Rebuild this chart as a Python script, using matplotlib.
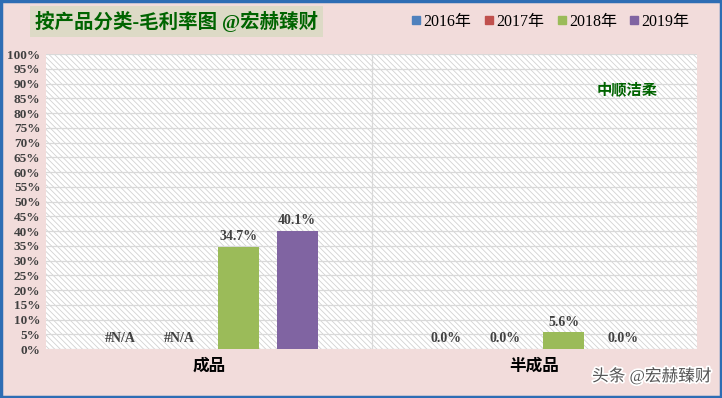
import matplotlib.pyplot as plt
import matplotlib.patches as mpatches
from matplotlib.lines import Line2D
import matplotlib.patheffects as pe
import numpy as np

plt.rcParams['font.family'] = ['Liberation Serif', 'Noto Sans CJK SC', 'DejaVu Sans']
plt.rcParams['hatch.linewidth'] = 0.6

categories = ['成品', '半成品']
years = ['2016年', '2017年', '2018年', '2019年']
# nan = #N/A
margins = {
    '2016年': [np.nan, 0.0],
    '2017年': [np.nan, 0.0],
    '2018年': [0.347, 0.056],
    '2019年': [0.401, 0.0],
}
colors = ['#4F81BD', '#C0504D', '#9BBB59', '#8064A2']

fig = plt.figure(figsize=(7.22, 3.98), dpi=100)
fig.patch.set_facecolor('#F2DCDB')
ax = fig.add_axes([0.0637, 0.1231, 0.9017, 0.7412])
ax.patch.set_facecolor('white')
# hatched plot area
ax.add_patch(mpatches.Rectangle((0, 0), 1, 1, transform=ax.transAxes, facecolor='white',
                                edgecolor='#d2d2d2', hatch='\\\\\\\\\\\\', lw=0, zorder=0))

slot = 0.181
width = 0.126
x = np.arange(len(categories))
for i, (yr, c) in enumerate(zip(years, colors)):
    vals = np.array(margins[yr], dtype=float)
    pos = x + (i - 1.5) * slot
    ax.bar(pos, np.nan_to_num(vals), width, color=c, zorder=3)
    for p, v in zip(pos, vals):
        lab = '#N/A' if np.isnan(v) else '%.1f%%' % (v * 100)
        h = 0 if np.isnan(v) else v
        ax.text(p, h + 0.012, lab, ha='center', va='bottom', fontsize=10,
                fontweight='bold', color='#404040', zorder=4)

ax.set_xlim(-0.5, 1.5)
ax.set_ylim(0, 1)
ax.set_yticks(np.arange(0, 1.001, 0.05))
ax.set_yticklabels(['%d%%' % round(t * 100) for t in np.arange(0, 1.001, 0.05)],
                   fontsize=9.5, fontweight='bold', color='#404040')
ax.yaxis.grid(True, color='#D9D9D9', lw=0.9, zorder=1)
ax.axvline(0.5, color='#D9D9D9', lw=0.9, zorder=1)
ax.tick_params(axis='y', length=0, pad=4)
ax.set_xticks(x)
ax.set_xticklabels(categories, fontsize=12, fontweight='bold')
ax.tick_params(axis='x', length=0, pad=7)
for s in ax.spines.values():
    s.set_visible(False)
ax.set_axisbelow(True)

ax.text(0.892, 0.88, '中顺洁柔', transform=ax.transAxes, ha='center', va='center',
        fontsize=11, fontweight='bold', color='#006400')

fig.text(0.048, 0.945, '按产品分类-毛利率图 @宏赫臻财', ha='left', va='center',
         fontsize=14, fontweight='bold', color='#006400',
         bbox=dict(boxstyle='square,pad=0.25', fc='#DDDAC6', ec='none'))

handles = [Line2D([], [], marker='s', ls='none', color=c, markersize=6) for c in colors]
fig.legend(handles, years, loc='center right', bbox_to_anchor=(0.975, 0.945),
           ncol=4, frameon=False, fontsize=11.5, handlelength=0.6, handletextpad=0.15,
           columnspacing=0.8)

fig.text(0.985, 0.055, '头条 @宏赫臻财', ha='right', va='center', fontsize=12,
         color='#555555', path_effects=[pe.withStroke(linewidth=2.5, foreground='white')])

fig.patches.append(mpatches.Rectangle((0.002, 0.003), 0.996, 0.994, transform=fig.transFigure,
                                      fill=False, ec='#2E6DB4', lw=2.5))

fig.savefig('out.png', dpi=100, facecolor=fig.get_facecolor())
